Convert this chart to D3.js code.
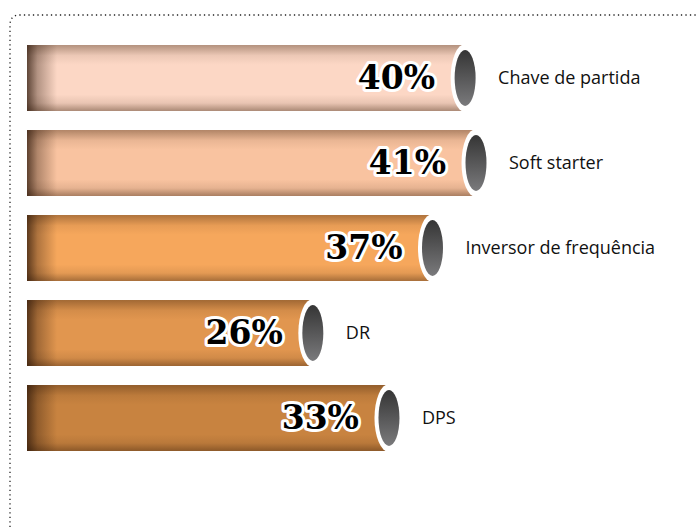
<!DOCTYPE html>
<html>
<head>
<meta charset="utf-8">
<script src="https://cdn.jsdelivr.net/npm/d3@7"></script>
<style>
  body { margin: 0; background: #fff; }
  svg { display: block; }
</style>
</head>
<body>
<div id="chart"></div>
<script>
// data
var categories = ["Chave de partida", "Soft starter", "Inversor de frequência", "DR", "DPS"];
var values = [40, 41, 37, 26, 33];
var barColors = ["#fcd7c5", "#f9c3a0", "#f6a75c", "#e1964f", "#c88340"];

var width = 697, height = 527;

var svg = d3.select("#chart").append("svg")
  .attr("width", width)
  .attr("height", height);

var defs = svg.append("defs");

// dotted frame with rounded top-left corner
svg.append("path")
  .attr("d", "M10,527 L10,25 Q10,15 20,15 L697,15")
  .attr("fill", "none")
  .attr("stroke", "#222")
  .attr("stroke-width", 1.3)
  .attr("stroke-dasharray", "1.3,3.2");

var x = d3.scaleLinear()
  .domain([0, 41])
  .range([30, 476]);

var y = d3.scaleBand()
  .domain(categories)
  .range([35.5, 460.5])
  .paddingInner(0.224)
  .paddingOuter(0.112);

var barLeft = 27;
var bh = y.bandwidth();

// shade top/bottom of tubes
var vg = defs.append("linearGradient")
  .attr("id", "vshade").attr("x1", 0).attr("y1", 0).attr("x2", 0).attr("y2", 1);
[[0, 0.38], [0.16, 0.08], [0.3, 0], [0.75, 0], [0.88, 0.1], [1, 0.42]].forEach(function(s) {
  vg.append("stop").attr("offset", s[0]).attr("stop-color", "#3a1e08").attr("stop-opacity", s[1]);
});

// dark left end
var hg = defs.append("linearGradient")
  .attr("id", "hshade").attr("x1", 0).attr("y1", 0).attr("x2", 1).attr("y2", 0);
[[0, 0.75], [0.35, 0.35], [1, 0]].forEach(function(s) {
  hg.append("stop").attr("offset", s[0]).attr("stop-color", "#2a1508").attr("stop-opacity", s[1]);
});

// cap gradient
var cg = defs.append("linearGradient")
  .attr("id", "cap").attr("x1", 0).attr("y1", 0).attr("x2", 0).attr("y2", 1);
cg.append("stop").attr("offset", 0).attr("stop-color", "#353535");
cg.append("stop").attr("offset", 1).attr("stop-color", "#7a7a7c");

var rows = svg.selectAll(".row")
  .data(categories)
  .enter().append("g")
  .attr("class", "row")
  .attr("transform", function(d) { return "translate(0," + y(d) + ")"; });

rows.append("rect")
  .attr("x", barLeft)
  .attr("y", 0)
  .attr("width", function(d, i) { return x(values[i]) - barLeft; })
  .attr("height", bh)
  .attr("fill", function(d, i) { return barColors[i]; });

rows.append("rect")
  .attr("x", barLeft)
  .attr("y", 0)
  .attr("width", function(d, i) { return x(values[i]) - barLeft; })
  .attr("height", bh)
  .attr("fill", "url(#vshade)");

rows.append("rect")
  .attr("x", barLeft)
  .attr("y", 0)
  .attr("width", 30)
  .attr("height", bh)
  .attr("fill", "url(#hshade)");

// white rim of the tube end
rows.append("ellipse")
  .attr("cx", function(d, i) { return x(values[i]); })
  .attr("cy", bh / 2)
  .attr("rx", 14.5)
  .attr("ry", bh / 2 + 1)
  .attr("fill", "#fff");

rows.append("ellipse")
  .attr("cx", function(d, i) { return x(values[i]); })
  .attr("cy", bh / 2)
  .attr("rx", 10.5)
  .attr("ry", bh / 2 - 5)
  .attr("fill", "url(#cap)");

// percentage labels
rows.append("text")
  .attr("x", function(d, i) { return x(values[i]) - 30; })
  .attr("y", bh / 2 + 11)
  .attr("text-anchor", "end")
  .attr("font-family", "'DejaVu Serif', serif")
  .attr("font-weight", "bold")
  .attr("font-size", 33)
  .attr("fill", "#000")
  .attr("stroke", "#fff")
  .attr("stroke-width", 6)
  .attr("stroke-linejoin", "round")
  .attr("paint-order", "stroke")
  .text(function(d, i) { return values[i] + "%"; });

// category labels
rows.append("text")
  .attr("x", function(d, i) { return x(values[i]) + 33; })
  .attr("y", bh / 2)
  .attr("dy", "0.35em")
  .attr("font-family", "'Open Sans', sans-serif")
  .attr("font-size", 18)
  .attr("fill", "#111")
  .text(function(d) { return d; });
</script>
</body>
</html>
